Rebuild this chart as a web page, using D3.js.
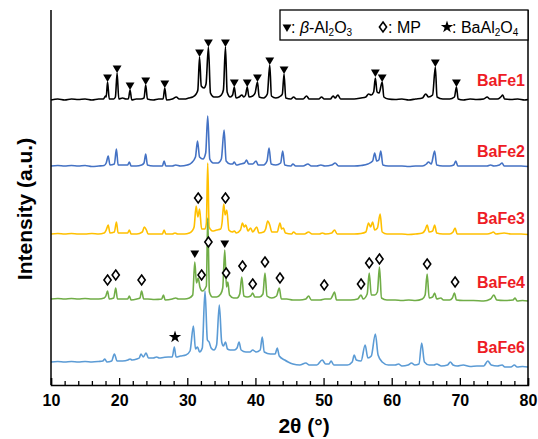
<!DOCTYPE html>
<html>
<head>
<meta charset="utf-8">
<script src="https://cdn.jsdelivr.net/npm/d3@7"></script>
<style>
  body { margin: 0; background: #fff; }
  svg { font-family: "Liberation Sans", Arial, sans-serif; }
</style>
</head>
<body>
<svg id="chart" width="538" height="439"></svg>
<script>
// Sample names, colours and vertical offsets of each pattern.
var sampleNames = ["BaFe1", "BaFe2", "BaFe3", "BaFe4", "BaFe6"];
var sampleColors = ["#000000", "#4472c4", "#ffc000", "#70ad47", "#5b9bd5"];
var sampleOffsets = [283, 216, 148, 81, 15];

// Diffraction patterns as [2theta, intensity].
var bafe1 = [[10,2],[11,3],[12,2],[13,3],[14,2.5],[15,3],[16,2],[17,3],[17.7,3],[18.0,6],[18.1,5],[18.3,20],[18.55,3],[19.2,3],[19.45,5],[19.7,29],[19.95,3],[20.5,4],[21.0,3],[21.35,3],[21.6,12],[21.85,2],[22.5,3],[23.2,3],[23.65,4],[23.9,17],[24.15,3],[25,2],[25.8,3],[26.45,3],[26.7,14],[26.95,2],[27.8,3],[28.4,5],[28.8,3],[29.6,3],[30.2,4],[30.8,5],[31.3,8],[31.55,12],[31.8,45],[32.05,16],[32.45,14],[32.75,18],[33.1,55],[33.4,9],[33.9,5],[34.5,5],[35.0,7],[35.3,12],[35.6,55],[35.85,10],[36.3,5],[36.65,7],[36.9,15],[37.15,4],[37.6,5],[38.0,7],[38.3,5],[38.55,7],[38.8,15],[39.05,5],[39.6,6],[39.95,9],[40.3,20],[40.55,5],[41.2,4],[41.75,8],[42.1,37],[42.35,6],[43.0,4],[43.7,6],[43.95,8],[44.2,28],[44.45,4],[45.2,3],[45.6,5],[46.0,3],[47.0,3],[47.5,6],[47.9,3],[49.3,3],[49.7,5],[50.1,3],[51.0,3],[51.4,6],[51.7,4],[52.1,7],[52.5,3],[53.5,3],[54.5,3],[55.5,4],[56.2,5],[56.6,8],[57.0,7],[57.35,10],[57.6,24],[57.85,10],[58.15,9],[58.6,20],[58.85,5],[59.5,3],[60.5,2.5],[61.5,3],[62.5,2],[63.5,3],[64.5,4],[65.0,8],[65.4,5],[66.0,7],[66.4,35],[66.65,5],[67.5,3],[68.5,3],[69.2,5],[69.5,15],[69.75,3],[70.5,2],[71.5,3],[72.5,2.5],[73.5,3],[74.0,5],[74.4,3],[75.5,3],[76.0,5],[76.3,7],[76.55,3],[77.5,2.5],[78.5,3],[79.5,2],[80,2.5]];

var bafe2 = [[10,3],[11,3.5],[12,3],[13,3.5],[14,3],[15,3.5],[16,2.5],[17,3],[17.8,3.5],[18.1,6],[18.4,13],[18.65,4],[19.3,5],[19.6,20],[19.85,4],[20.5,4],[21.25,4],[21.5,7],[21.75,3],[22.5,3],[23.3,4],[23.65,6],[23.9,15],[24.15,4],[25,3],[26.35,3],[26.6,8],[26.85,3],[27.8,3],[28.3,4],[29.0,3],[30.0,4],[30.6,6],[31.2,12],[31.5,28],[31.8,12],[32.3,10],[32.7,16],[33.0,53],[33.3,10],[33.8,6],[34.5,6],[35.0,10],[35.4,39],[35.7,8],[36.3,5],[36.65,5],[36.9,7],[37.2,4],[37.8,5],[38.4,6],[38.7,9],[39.0,5],[39.6,5],[40.1,8],[40.4,4],[41.2,4],[41.7,8],[42.0,21],[42.3,5],[43.0,4],[43.7,6],[44.0,18],[44.3,4],[45.2,3],[45.5,5],[45.9,3],[47.0,3],[47.7,5],[48.2,3],[49.0,3],[49.6,4],[50.2,3],[51.2,4],[51.7,6],[52.2,3],[53.5,3],[54.5,3],[55.5,3.5],[56.5,5],[57.2,8],[57.5,16],[57.8,8],[58.1,9],[58.4,18],[58.7,4],[59.5,3],[60.5,3],[61.5,3],[62.5,2.5],[63.5,3],[64.5,3],[65.1,5],[65.4,7],[65.8,5],[66.3,18],[66.6,4],[67.5,3],[68.5,3],[69.1,4],[69.4,8],[69.7,3],[71.0,3],[72.5,3],[74.0,3],[74.5,4],[75.0,3],[75.8,4],[76.2,6],[76.5,3],[77.5,3],[79.0,3],[80,2.5]];

var bafe3 = [[10,3],[11,3.5],[12,3],[13,3.5],[14,3],[15,3],[16,3.5],[17,3],[17.8,4],[18.1,7],[18.4,12],[18.65,4],[19.3,5],[19.6,15],[19.85,4],[20.6,4],[21.25,4],[21.5,7],[21.75,3],[22.6,3],[23.4,5],[23.7,10],[24.0,7],[24.25,3],[25.2,3],[26.35,3],[26.6,7],[26.85,3],[27.8,3],[28.2,4],[28.6,3],[29.6,3],[30.3,4],[30.7,6],[31.0,10],[31.3,31],[31.55,20],[31.8,28],[32.1,8],[32.6,8],[32.8,14],[33.0,74],[33.2,10],[33.7,6],[34.3,7],[34.9,8],[35.1,14],[35.35,33],[35.55,22],[35.8,27],[36.1,7],[36.6,5],[36.9,6],[37.2,4],[37.8,7],[38.1,14],[38.35,10],[38.6,12],[38.9,6],[39.3,9],[39.6,5],[40.2,10],[40.5,4],[41.2,5],[41.5,8],[41.8,16],[42.1,12],[42.4,5],[43.2,5],[43.6,14],[43.85,8],[44.1,9],[44.4,4],[45.3,3],[45.6,5],[46.0,3],[47.2,3],[47.8,5],[48.3,3],[49.4,3],[49.8,4],[50.3,3],[51.2,4],[51.6,7],[52.0,3],[53.5,3],[54.5,3],[55.5,3.5],[56.2,5],[56.6,14],[56.9,10],[57.2,15],[57.5,7],[57.9,9],[58.3,23],[58.6,5],[59.3,3],[60.5,3],[61.5,3],[62.5,2.5],[63.5,3],[64.5,4],[64.9,7],[65.2,12],[65.5,5],[66.0,6],[66.3,12],[66.6,4],[67.5,3],[68.5,3],[69.0,5],[69.3,9],[69.6,3],[71.0,3],[72.5,3],[74.0,3],[74.6,4],[74.9,5],[75.3,3],[76.5,4],[77.5,3],[79.0,3],[80,2.5]];

var bafe4 = [[10,5],[11,5.5],[12,5],[13,5.5],[14,5],[15,5.5],[16,5],[17,5],[17.8,6],[18.05,8],[18.3,13],[18.55,5],[19.2,6],[19.5,16],[19.75,5],[20.6,5],[21.25,5],[21.5,8],[21.75,4],[22.6,5],[23.05,6],[23.3,13],[23.6,5],[24.2,5],[25.2,4.5],[26.25,5],[26.5,9],[26.75,4],[27.8,5],[28.3,6],[28.7,5],[29.6,5],[30.3,6],[30.8,9],[31.1,42],[31.35,21],[31.6,26],[31.85,17],[32.2,13],[32.8,18],[33.0,86],[33.25,12],[33.7,7],[34.3,7],[34.9,10],[35.2,16],[35.5,54],[35.75,17],[35.95,22],[36.2,9],[36.8,6],[37.3,6],[37.7,10],[38.0,27],[38.3,8],[38.8,7],[39.3,8],[39.6,11],[39.9,7],[40.6,7],[41.1,10],[41.4,31],[41.7,8],[42.4,6],[43.1,8],[43.5,16],[43.8,5],[44.6,5],[45.5,4],[46.5,4],[47.4,5],[47.8,8],[48.2,4],[49.5,4],[50.2,5],[51.0,5],[51.3,8],[51.6,12],[51.9,4],[53.0,4],[54.0,4],[55.0,5],[55.5,9],[55.8,5],[56.4,10],[56.7,31],[57.0,9],[57.5,9],[57.9,12],[58.2,37],[58.5,6],[59.3,4],[60.5,4],[61.5,3.5],[62.5,4],[63.5,3.5],[64.5,5],[64.9,9],[65.2,30],[65.5,6],[66.0,7],[66.3,11],[66.6,5],[67.2,6],[67.6,4],[68.5,4],[68.9,6],[69.2,11],[69.5,4],[70.5,3.5],[72,3.5],[73.5,3],[74.5,5],[75.0,9],[75.4,4],[76.5,3.5],[77.8,4],[78.1,6],[78.4,3],[79.2,3.5],[80,3]];

var bafe6 = [[10,8],[11,8.5],[12,8],[13,8.5],[14,8],[15,8.5],[16,8],[17,8.5],[17.6,9],[17.9,11],[18.2,8],[18.9,9],[19.3,16],[19.7,9],[20.5,9],[21.3,10],[21.6,11],[21.9,10],[22.6,11],[22.95,12],[23.2,16],[23.55,13],[23.95,17],[24.3,12],[25.0,12],[25.5,13],[25.9,12],[26.5,12.5],[27.2,13],[27.8,13],[28.1,23],[28.35,13],[29.0,14],[29.8,15],[30.4,19],[30.9,44],[31.2,21],[31.5,23],[31.8,18],[32.2,22],[32.6,79],[32.95,30],[33.2,28],[33.5,22],[33.9,20],[34.3,25],[34.7,65],[35.05,28],[35.3,24],[35.6,28],[35.9,21],[36.3,20],[36.9,20],[37.3,22],[37.6,28],[37.9,20],[38.6,18],[39.2,18],[39.6,20],[40.1,18],[40.7,20],[41.0,33],[41.3,18],[42.2,16],[42.9,16],[43.2,22],[43.5,14],[44.3,10],[44.8,8],[45.5,6],[46.5,5],[47.4,7],[47.9,5],[49.0,5],[49.8,10],[50.3,6],[50.8,6],[51.1,9],[51.5,5],[52.5,5],[53.5,5],[54.2,8],[54.5,15],[54.8,10],[55.5,9],[56.1,25],[56.5,12],[57.0,14],[57.6,36],[58.0,15],[58.6,8],[59.5,5],[60.5,5],[61.0,6],[61.5,4],[62.4,5],[62.9,7],[63.4,5],[64.0,6],[64.4,27],[64.8,8],[65.5,5],[66.2,5],[66.6,6],[67.3,4],[68.2,5],[68.6,8],[69.0,5],[69.6,4],[70.5,5],[71.5,3.5],[72.5,4],[73.5,4],[74.1,9],[74.6,5],[75.5,4],[76.2,5],[76.6,3],[77.5,3],[78.0,5],[78.4,3],[79.2,3.5],[80,3]];

var patterns = [bafe1, bafe2, bafe3, bafe4, bafe6];

// Phase markers: [sample index, 2theta, level above that pattern's zero].
var betaMarks = [[0,18.3,25],[0,19.7,34],[0,21.6,17],[0,23.9,22],[0,26.7,19],[0,31.8,50],[0,33.1,60],[0,35.6,60],[0,36.9,20],[0,38.8,20],[0,40.3,25],[0,42.1,42],[0,44.2,33],[0,57.6,30],[0,58.6,25],[0,66.4,40],[0,69.5,20],[3,31.1,51],[3,35.5,61]];
var mpMarks = [[2,31.6,39],[2,35.6,39],[3,18.3,24],[3,19.5,29],[3,23.3,24],[3,32.1,29],[3,33.1,62],[3,35.7,31],[3,38.1,38],[3,39.6,20],[3,41.4,42],[3,43.6,26],[3,50.1,19],[3,55.5,20],[3,56.7,41],[3,58.2,45],[3,65.2,40],[3,69.3,22]];
var baAlMarks = [[4,28.2,33]];

// Axis ticks.
var majorTicks = [10, 20, 30, 40, 50, 60, 70, 80];
var minorTicks = [12,14,16,18,22,24,26,28,32,34,36,38,42,44,46,48,52,54,56,58,62,64,66,68,72,74,76,78];

var margin = {left: 51, right: 528, top: 10, bottom: 385};
var svg = d3.select("#chart");

var x = d3.scaleLinear().domain([10, 80]).range([margin.left, margin.right]);
var y = d3.scaleLinear().domain([0, 375]).range([margin.bottom, margin.top]);

// Patterns.
var line = d3.line()
    .curve(d3.curveMonotoneX)
    .x(function (d) { return x(d[0]); })
    .y(function (d) { return y(d[1]); });

patterns.forEach(function (data, i) {
    svg.append("path")
        .datum(data.map(function (d) { return [d[0], d[1] + sampleOffsets[i]]; }))
        .attr("d", line)
        .attr("fill", "none")
        .attr("stroke", sampleColors[i])
        .attr("stroke-width", 1.6)
        .attr("stroke-linejoin", "round");
});

// Marker shapes.
var diamondType = {
    draw: function (context, size) {
        var h = 5, w = 3.6;
        context.moveTo(0, -h);
        context.lineTo(w, 0);
        context.lineTo(0, h);
        context.lineTo(-w, 0);
        context.closePath();
    }
};
var triangle = d3.symbol().type(d3.symbolTriangle).size(34);
var diamond = d3.symbol().type(diamondType).size(1);
var star = d3.symbol().type(d3.symbolStar).size(48);

function markerPos(d) {
    return "translate(" + x(d[1]) + "," + y(d[2] + sampleOffsets[d[0]]) + ")";
}

svg.append("g").selectAll("path")
    .data(betaMarks)
    .enter()
    .append("path")
    .attr("d", triangle)
    .attr("transform", function (d) { return markerPos(d) + " rotate(180)"; })
    .attr("fill", "#000");

svg.append("g").selectAll("path")
    .data(mpMarks)
    .enter()
    .append("path")
    .attr("d", diamond)
    .attr("transform", markerPos)
    .attr("fill", "#fff")
    .attr("stroke", "#000")
    .attr("stroke-width", 1.6);

svg.append("g").selectAll("path")
    .data(baAlMarks)
    .enter()
    .append("path")
    .attr("d", star)
    .attr("transform", markerPos)
    .attr("fill", "#000");

// Sample labels.
svg.append("g").selectAll("text")
    .data(sampleNames)
    .enter()
    .append("text")
    .attr("x", 525)
    .attr("y", function (d, i) { return [86, 157, 224, 288, 353][i]; })
    .attr("text-anchor", "end")
    .attr("font-size", 16)
    .attr("font-weight", "bold")
    .attr("fill", "#ee1c25")
    .text(function (d) { return d; });

// Axes.
var xAxis = d3.axisBottom(x)
    .tickValues(majorTicks)
    .tickSize(-7)
    .tickPadding(10)
    .tickFormat(d3.format("d"));
var xMinor = d3.axisBottom(x)
    .tickValues(minorTicks)
    .tickSize(-4)
    .tickFormat("");

var gx = svg.append("g")
    .attr("transform", "translate(0," + margin.bottom + ")")
    .call(xAxis);
svg.append("g")
    .attr("transform", "translate(0," + margin.bottom + ")")
    .call(xMinor)
    .select(".domain").remove();
gx.selectAll("text")
    .attr("font-size", 16)
    .attr("font-weight", "bold")
    .attr("font-family", "Liberation Sans, Arial, sans-serif")
    .attr("fill", "#000");
svg.selectAll(".tick line").attr("stroke-width", 1.3);
gx.select(".domain").attr("stroke-width", 1.5);

// Left and right frame lines.
svg.append("line")
    .attr("x1", margin.left).attr("x2", margin.left)
    .attr("y1", margin.top).attr("y2", margin.bottom)
    .attr("stroke", "#000").attr("stroke-width", 1.5);
svg.append("line")
    .attr("x1", margin.right).attr("x2", margin.right)
    .attr("y1", margin.top).attr("y2", margin.bottom)
    .attr("stroke", "#000").attr("stroke-width", 1.5);

// Axis titles.
svg.append("text")
    .attr("x", 304)
    .attr("y", 433)
    .attr("text-anchor", "middle")
    .attr("font-size", 21)
    .attr("font-weight", "bold")
    .text("2θ (°)");
svg.append("text")
    .attr("transform", "translate(32,209) rotate(-90)")
    .attr("text-anchor", "middle")
    .attr("font-size", 21)
    .attr("font-weight", "bold")
    .text("Intensity (a.u.)");

// Legend.
var legend = svg.append("g");
legend.append("rect")
    .attr("x", 280).attr("y", 10)
    .attr("width", 248).attr("height", 30)
    .attr("fill", "#fff")
    .attr("stroke", "#000")
    .attr("stroke-width", 1.3);
legend.append("path")
    .attr("d", triangle)
    .attr("transform", "translate(287,27) rotate(180)");
legend.append("path")
    .attr("d", diamond)
    .attr("transform", "translate(383,27)")
    .attr("fill", "#fff").attr("stroke", "#000").attr("stroke-width", 1.6);
legend.append("path")
    .attr("d", star)
    .attr("transform", "translate(447,27)");

var t1 = legend.append("text").attr("x", 291).attr("y", 33).attr("font-size", 16);
t1.append("tspan").text(": ");
t1.append("tspan").attr("font-style", "italic").text("β");
t1.append("tspan").text("-Al");
t1.append("tspan").attr("font-size", 10).attr("dy", 3).text("2");
t1.append("tspan").attr("dy", -3).text("O");
t1.append("tspan").attr("font-size", 10).attr("dy", 3).text("3");

legend.append("text").attr("x", 388).attr("y", 33).attr("font-size", 16).text(": MP");

var t3 = legend.append("text").attr("x", 452).attr("y", 33).attr("font-size", 16);
t3.append("tspan").text(": BaAl");
t3.append("tspan").attr("font-size", 10).attr("dy", 3).text("2");
t3.append("tspan").attr("dy", -3).text("O");
t3.append("tspan").attr("font-size", 10).attr("dy", 3).text("4");
</script>
</body>
</html>
